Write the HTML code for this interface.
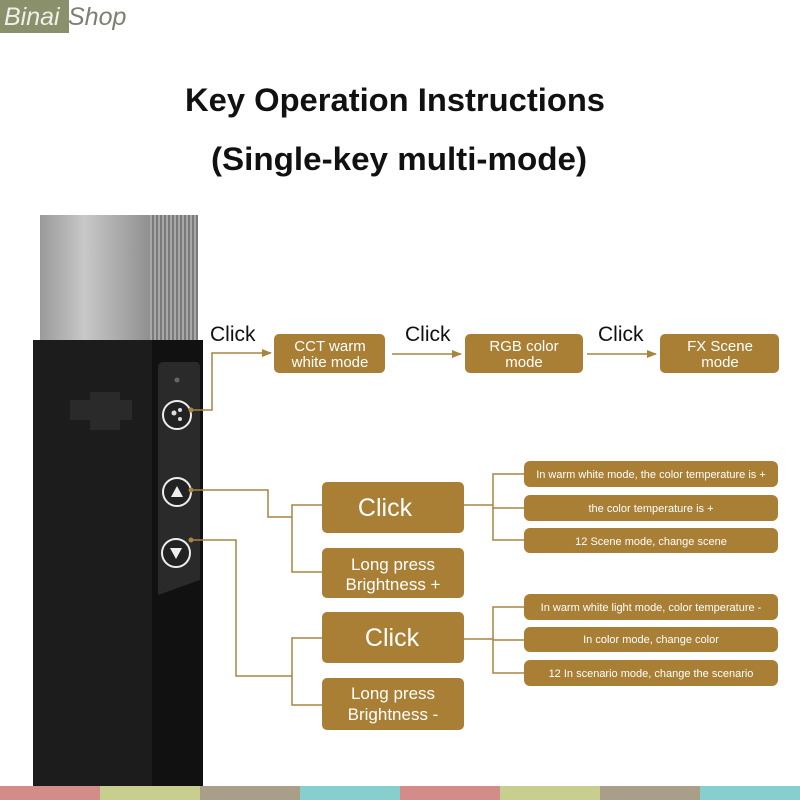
<!DOCTYPE html>
<html><head><meta charset="utf-8"><style>
html,body{margin:0;padding:0;background:#fff}
svg{display:block}
text{font-family:"Liberation Sans",sans-serif}
</style></head><body>
<svg width="800" height="800" viewBox="0 0 800 800" xmlns="http://www.w3.org/2000/svg">
<defs>
<linearGradient id="silver" x1="0" x2="1" y1="0" y2="0">
<stop offset="0" stop-color="#9a9a9a"/><stop offset="0.4" stop-color="#c8c8c8"/><stop offset="1" stop-color="#8e8e8e"/>
</linearGradient>
<pattern id="rib" width="4" height="4" patternUnits="userSpaceOnUse">
<rect width="4" height="4" fill="#a8a8a8"/><rect width="2" height="4" fill="#7a7a7a"/>
</pattern>
<marker id="ar" markerWidth="10" markerHeight="8" refX="9" refY="4" orient="auto" markerUnits="userSpaceOnUse">
<path d="M0,0 L10,4 L0,8 Z" fill="#a88440"/>
</marker>
</defs>
<!-- logo -->
<rect x="0" y="0" width="69" height="33" fill="#8a8f6c"/>
<text x="4" y="25" font-size="25" font-style="italic" fill="#f0f0e8" font-family="Liberation Serif">Binai</text>
<text x="68" y="25" font-size="25" font-style="italic" fill="#7d8070" font-family="Liberation Serif">Shop</text>
<!-- title -->
<text x="395" y="111" font-size="32" text-anchor="middle" fill="#111" font-weight="bold" textLength="420" lengthAdjust="spacingAndGlyphs">Key Operation Instructions</text>
<text x="399" y="170" font-size="32" text-anchor="middle" fill="#111" font-weight="bold" textLength="376" lengthAdjust="spacingAndGlyphs">(Single-key multi-mode)</text>
<!-- device -->
<rect x="40" y="215" width="112" height="130" fill="url(#silver)"/>
<rect x="150" y="215" width="48" height="130" fill="url(#rib)"/>
<rect x="33" y="340" width="170" height="446" fill="#161616"/>
<rect x="33" y="340" width="120" height="446" fill="#1c1c1c"/>
<rect x="152" y="340" width="51" height="446" fill="#111"/>
<path d="M70,400 h20 v-8 h30 v8 h12 v20 h-12 v10 h-30 v-10 h-20 z" fill="#2a2a2a"/>
<path d="M158,368 q0,-6 6,-6 h32 q4,0 4,6 v212 l-42,15 z" fill="#2a2a2a"/>
<circle cx="177" cy="380" r="2.5" fill="#666"/>
<g stroke="#eee" stroke-width="2" fill="#222">
<circle cx="177" cy="415" r="14"/><circle cx="177" cy="492" r="14"/><circle cx="176" cy="553" r="14"/>
</g>
<circle cx="174" cy="413" r="2.5" fill="#ddd"/><circle cx="180" cy="410" r="2" fill="#ddd"/><circle cx="180" cy="419" r="2" fill="#ddd"/>
<path d="M171,497 L177,486 L183,497 Z" fill="#eee"/>
<path d="M170,548 L176,559 L182,548 Z" fill="#eee"/>
<!-- connectors -->
<g stroke="#a88440" stroke-width="1.5" fill="none">
<path d="M191,410 H212 V353 H271" marker-end="url(#ar)"/>
<path d="M392,354 H461" marker-end="url(#ar)"/>
<path d="M587,354 H656" marker-end="url(#ar)"/>
<path d="M191,490 H268 V517 H292"/>
<path d="M322,505 H292 V572 H322"/>
<path d="M191,540 H236 V676 H292"/>
<path d="M322,638 H292 V705 H322"/>
<path d="M464,505 H493"/>
<path d="M524,474 H493 V540 H524"/>
<path d="M493,508 H524"/>
<path d="M464,639 H493"/>
<path d="M524,607 H493 V673 H524"/>
<path d="M493,640 H524"/>
</g>
<circle cx="191" cy="410" r="2.5" fill="#a88440"/>
<circle cx="191" cy="490" r="2.5" fill="#a88440"/>
<circle cx="191" cy="540" r="2.5" fill="#a88440"/>
<!-- click labels -->
<g font-size="21" fill="#111">
<text x="210" y="341">Click</text><text x="405" y="341">Click</text><text x="598" y="341">Click</text>
</g>
<!-- boxes -->
<g fill="#a87f35">
<rect x="274" y="334" width="111" height="39" rx="5"/>
<rect x="465" y="334" width="118" height="39" rx="5"/>
<rect x="660" y="334" width="119" height="39" rx="5"/>
<rect x="322" y="482" width="142" height="51" rx="5"/>
<rect x="322" y="548" width="142" height="50" rx="5"/>
<rect x="322" y="612" width="142" height="51" rx="5"/>
<rect x="322" y="678" width="142" height="52" rx="5"/>
<rect x="524" y="461" width="254" height="26" rx="6"/>
<rect x="524" y="495" width="254" height="26" rx="6"/>
<rect x="524" y="528" width="254" height="25" rx="6"/>
<rect x="524" y="594" width="254" height="26" rx="6"/>
<rect x="524" y="627" width="254" height="25" rx="6"/>
<rect x="524" y="660" width="254" height="26" rx="6"/>
</g>
<g fill="#fff" text-anchor="middle">
<g font-size="15">
<text x="330" y="351">CCT warm</text><text x="330" y="367">white mode</text>
<text x="524" y="351">RGB color</text><text x="524" y="367">mode</text>
<text x="720" y="351">FX Scene</text><text x="720" y="367">mode</text>
</g>
<text x="385" y="516" font-size="25">Click</text>
<text x="392" y="646" font-size="25">Click</text>
<g font-size="17">
<text x="393" y="570">Long press</text><text x="393" y="590">Brightness +</text>
<text x="393" y="699">Long press</text><text x="393" y="720">Brightness -</text>
</g>
<g font-size="11">
<text x="651" y="478">In warm white mode, the color temperature is +</text>
<text x="651" y="512">the color temperature is +</text>
<text x="651" y="545">12 Scene mode, change scene</text>
<text x="651" y="611">In warm white light mode, color temperature -</text>
<text x="651" y="643">In color mode, change color</text>
<text x="651" y="677">12 In scenario mode, change the scenario</text>
</g>
</g>
<!-- bottom stripe -->
<rect x="0" y="786" width="100" height="14" fill="#d48c88"/>
<rect x="100" y="786" width="100" height="14" fill="#c8cf8e"/>
<rect x="200" y="786" width="100" height="14" fill="#a99f88"/>
<rect x="300" y="786" width="100" height="14" fill="#86cfcf"/>
<rect x="400" y="786" width="100" height="14" fill="#d48c88"/>
<rect x="500" y="786" width="100" height="14" fill="#c8cf8e"/>
<rect x="600" y="786" width="100" height="14" fill="#a99f88"/>
<rect x="700" y="786" width="100" height="14" fill="#86cfcf"/>
</svg>
</body></html>
